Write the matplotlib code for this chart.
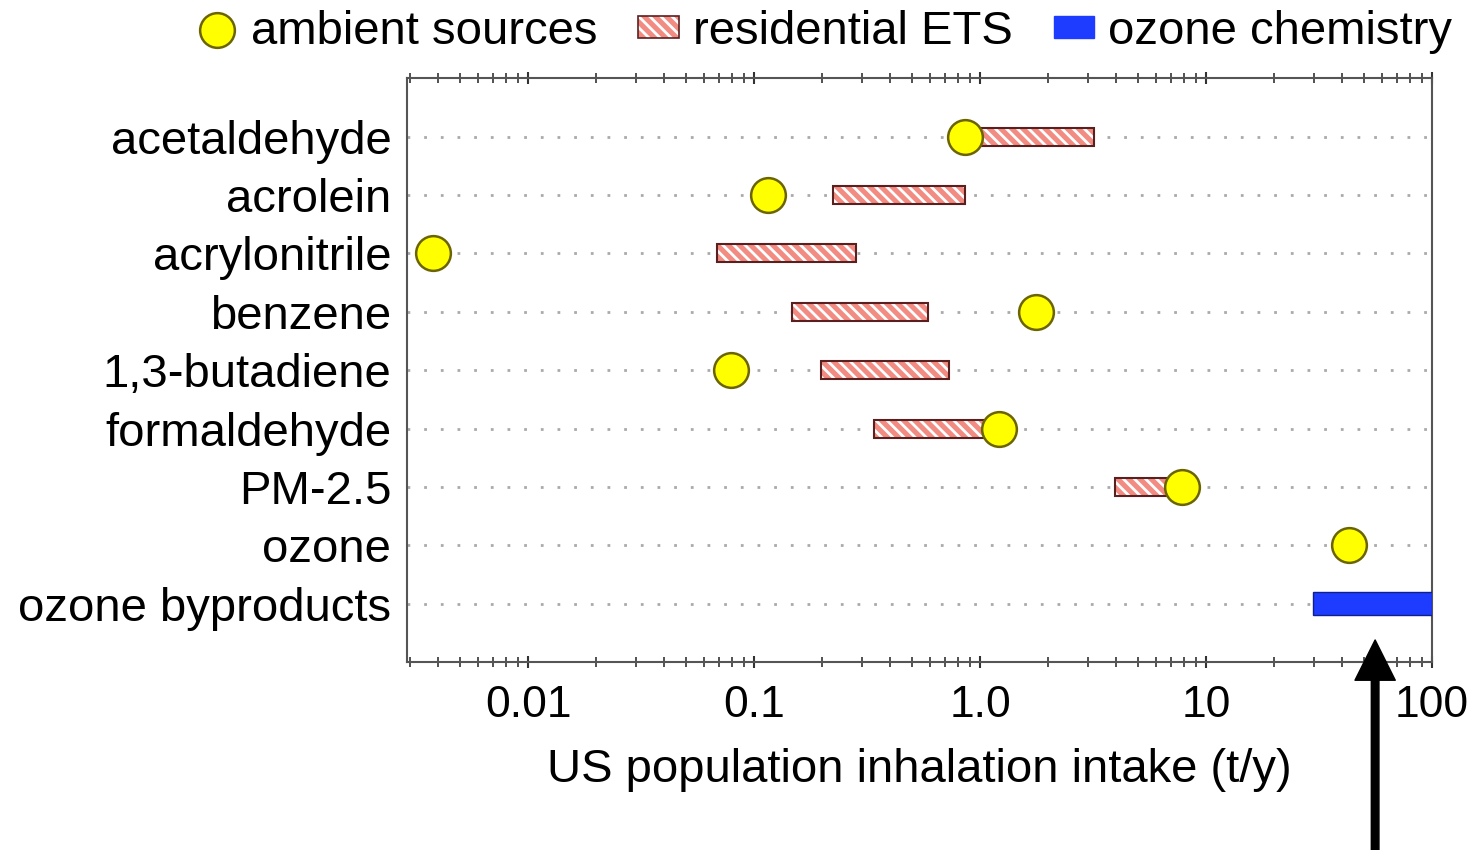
import matplotlib.pyplot as plt
import numpy as np
from matplotlib.lines import Line2D
from matplotlib.patches import Patch
from matplotlib.ticker import FixedLocator, LogLocator, NullFormatter

plt.rcParams['font.family'] = ['Liberation Sans', 'DejaVu Sans']
plt.rcParams['hatch.linewidth'] = 2.0

compounds = ['acetaldehyde', 'acrolein', 'acrylonitrile', 'benzene', '1,3-butadiene',
             'formaldehyde', 'PM-2.5', 'ozone', 'ozone byproducts']

# intake from ambient sources (t/y); nan = no point
ambient = np.array([0.86, 0.115, 0.0038, 1.77, 0.079, 1.21, 7.8, 43.0, np.nan])
# residential ETS range (t/y)
ets_low = np.array([0.95, 0.224, 0.0686, 0.147, 0.198, 0.34, 3.96, np.nan, np.nan])
ets_high = np.array([3.2, 0.86, 0.283, 0.589, 0.73, 1.1, 7.3, np.nan, np.nan])
# ozone chemistry range for the byproducts row (t/y)
ozone_chem_low = np.array([np.nan] * 8 + [29.7])
ozone_chem_high = np.array([np.nan] * 8 + [100.0])

tick_vals = [0.01, 0.1, 1.0, 10, 100]
tick_text = ['0.01', '0.1', '1.0', '10', '100']

salmon = '#f28b82'
blue = '#1e3cff'

y = np.arange(len(compounds))

fig = plt.figure(figsize=(14.68, 8.5), dpi=100)
ax = fig.add_axes([0.277, 0.221, 0.6985, 0.687])

# ETS bars: hatched fill, then dark outline on top
ax.barh(y, ets_high - ets_low, left=ets_low, height=0.31, color=salmon,
        edgecolor='white', hatch='\\\\\\', linewidth=0, zorder=2)
ax.barh(y, ets_high - ets_low, left=ets_low, height=0.31, fill=False,
        edgecolor='#5a2020', linewidth=1.5, zorder=3)
ax.barh(y, ozone_chem_high - ozone_chem_low, left=ozone_chem_low, height=0.4,
        color=blue, edgecolor='#10208a', linewidth=1, zorder=3)
ax.plot(ambient, y, 'o', markersize=25, markerfacecolor='#ffff00',
        markeredgecolor='#6b6400', markeredgewidth=1.8, linestyle='none', zorder=4)

ax.set_xscale('log')
ax.set_xlim(0.0029, 100)
ax.set_ylim(len(compounds), -1)
ax.set_yticks(y)
ax.set_yticklabels(compounds, fontsize=34)
ax.xaxis.set_major_locator(FixedLocator(tick_vals))
ax.set_xticklabels(tick_text, fontsize=32)
ax.xaxis.set_minor_locator(LogLocator(base=10, subs=np.arange(2, 10)))
ax.xaxis.set_minor_formatter(NullFormatter())
ax.tick_params(axis='x', which='both', top=True, direction='inout', color='#333333')
ax.tick_params(axis='x', which='major', length=9, width=1.5, pad=12)
ax.tick_params(axis='x', which='minor', length=7, width=1.2)
ax.tick_params(axis='y', length=0, pad=11)
ax.grid(axis='y', color='#aaaaaa', linestyle=(0, (1, 5)), linewidth=2, zorder=0)
ax.set_axisbelow(True)
for s in ax.spines.values():
    s.set_color('#555555')
    s.set_linewidth(1.5)

ax.set_xlabel('US population inhalation intake (t/y)', fontsize=34, labelpad=16)

# arrow pointing up at the ozone byproducts bar
ax.annotate('', xy=(56, 8.62), xycoords='data',
            xytext=(56, 0.0), textcoords=('data', 'figure fraction'),
            arrowprops=dict(facecolor='black', edgecolor='black', width=5.5,
                            headwidth=29, headlength=29, shrink=0),
            annotation_clip=False)

handles = [
    Line2D([], [], marker='o', linestyle='none', markersize=25,
           markerfacecolor='#ffff00', markeredgecolor='#6b6400', markeredgewidth=1.8),
    (Patch(facecolor=salmon, edgecolor='white', hatch='\\\\\\', linewidth=0),
     Patch(fill=False, edgecolor='#5a2020', linewidth=1.2)),
    Patch(facecolor=blue, edgecolor=blue),
]
labels = ['ambient sources', 'residential ETS', 'ozone chemistry']
fig.legend(handles, labels, loc='upper right', bbox_to_anchor=(1.018, 1.038),
           ncol=3, frameon=False, fontsize=34, handlelength=0.85, handleheight=0.35,
           handletextpad=0.3, columnspacing=0.87)

fig.savefig('out.png', dpi=100)
